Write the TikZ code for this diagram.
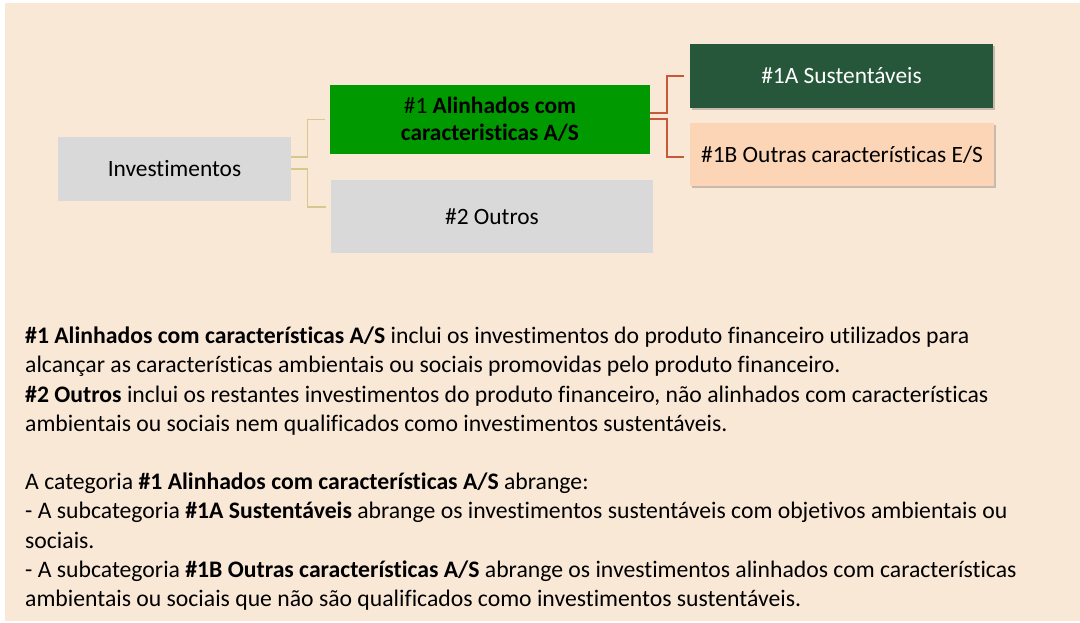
\documentclass[tikz,border=0pt]{standalone}
\usepackage{fontspec}
\setmainfont{Carlito}[Ligatures=NoCommon]
\usetikzlibrary{shadows}
\definecolor{bg}{HTML}{FAE8D7}
\definecolor{greybox}{HTML}{D9D9D9}
\definecolor{greenbox}{HTML}{009900}
\definecolor{darkgreen}{HTML}{26573A}
\definecolor{peach}{HTML}{FBD5B5}
\definecolor{tanline}{HTML}{D6C88E}
\definecolor{redline}{HTML}{C9583A}
\tikzset{
  box/.style={draw=none, inner sep=0pt, align=center, font=\fontsize{23.4}{27}\selectfont},
  shadowbox/.style={box, drop shadow={shadow xshift=1.5pt, shadow yshift=-2.5pt, opacity=0.35, fill=black!60}},
  tanconn/.style={draw=tanline, line width=1.3pt},
  redconn/.style={draw=redline, line width=1.5pt},
  bodyline/.style={anchor=base west, inner sep=0pt, font=\fontsize{23.7}{29}\selectfont}
}
\begin{document}
\begin{tikzpicture}[x=1pt,y=-1pt]
\useasboundingbox (0,0) rectangle (1080,623);
\fill[white] (0,0) rectangle (1080,623);
\fill[bg] (5,3) rectangle (1080,621);

\node[box, fill=greybox, minimum width=233pt, minimum height=64pt] (inv) at (174.5,169) {Investimentos};
\node[box, fill=greenbox, minimum width=320pt, minimum height=69pt] (a1) at (490,119.5) {\#1 \textbf{Alinhados com}\\\textbf{caracteristicas A/S}};
\node[box, fill=greybox, minimum width=322pt, minimum height=73pt] (o2) at (492,216.5) {\#2 Outros};
\node[shadowbox, fill=darkgreen, text=white, minimum width=303pt, minimum height=64pt] (s1a) at (841.5,76) {\#1A Sustentáveis};
\node[shadowbox, fill=peach, minimum width=304pt, minimum height=63pt] (o1b) at (842,154.5) {\#1B Outras características E/S};

\draw[tanconn] ([yshift=12pt]inv.east) -- ++(16,0) |- ([xshift=-5pt]a1.west);
\draw[tanconn] (inv.east) -- ++(16,0) |- ([xshift=-5pt,yshift=9.5pt]o2.west);
\draw[redconn] ([yshift=6.5pt]a1.east) -- ++(17,0) |- ([xshift=-6pt]s1a.west);
\draw[redconn] ([yshift=0.5pt]a1.east) -- ++(17,0) |- ([xshift=-6pt,yshift=-2.5pt]o1b.west);

\node[bodyline] (l1) at (25,343) {\textbf{\#1 Alinhados com características A/S} inclui os investimentos do produto financeiro utilizados para};
\node[bodyline] (l2) at (25,372.5) {alcançar as características ambientais ou sociais promovidas pelo produto financeiro.};
\node[bodyline] (l3) at (25,402) {\textbf{\#2 Outros} inclui os restantes investimentos do produto financeiro, não alinhados com características};
\node[bodyline] (l4) at (25,431) {ambientais ou sociais nem qualificados como investimentos sustentáveis.};
\node[bodyline] (l5) at (25,489.5) {A categoria \textbf{\#1 Alinhados com características A/S} abrange:};
\node[bodyline] (l6) at (25,518.5) {- A subcategoria \textbf{\#1A Sustentáveis} abrange os investimentos sustentáveis com objetivos ambientais ou};
\node[bodyline] (l7) at (25,548) {sociais.};
\node[bodyline] (l8) at (25,577) {- A subcategoria \textbf{\#1B Outras características A/S} abrange os investimentos alinhados com características};
\node[bodyline] (l9) at (25,606) {ambientais ou sociais que não são qualificados como investimentos sustentáveis.};
\end{tikzpicture}
\end{document}
